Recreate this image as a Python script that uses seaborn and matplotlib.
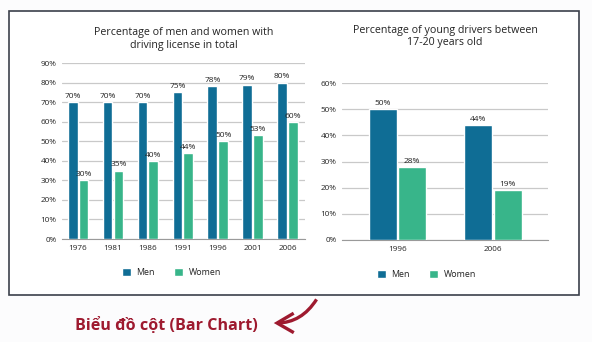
import numpy as np, pandas as pd
import seaborn as sns, matplotlib.pyplot as plt
from matplotlib.patches import Rectangle, FancyArrowPatch, Patch

# left chart: licence holders
years = ["1976", "1981", "1986", "1991", "1996", "2001", "2006"]
men_total = [70, 70, 70, 75, 78, 79, 80]
women_total = [30, 35, 40, 44, 50, 53, 60]

# right chart: young drivers 17-20
young_years = ["1996", "2006"]
men_young = [50, 44]
women_young = [28, 19]

groups = ["Men", "Women"]
colors = {"Men": "#0f6d95", "Women": "#38b58a"}

def longform(cats, m, w):
    return pd.DataFrame({"year": cats * 2, "sex": ["Men"] * len(cats) + ["Women"] * len(cats),
                         "pct": m + w})

sns.set_style("white")
plt.rcParams['font.family'] = ['Open Sans', 'DejaVu Sans']
txt = "#232323"

fig = plt.figure(figsize=(5.92, 3.42), dpi=100)
fig.patch.set_facecolor("#fcfcfd")
W, H = 592, 342
def box(x0, y0, x1, y1):
    return [x0 / W, 1 - y1 / H, (x1 - x0) / W, (y1 - y0) / H]

# outer frame
fig.add_artist(Rectangle((9 / W, 1 - 295 / H), 570 / W, 284 / H, transform=fig.transFigure,
                         facecolor="white", edgecolor="#3b404b", lw=1.2, zorder=0))

def panel(ax, df, ymax, step, xlim, width, gap, title, pad, leg_xy):
    sns.barplot(data=df, x="year", y="pct", hue="sex", palette=colors, width=width, gap=gap,
                ax=ax, legend=False, saturation=1, zorder=3)
    for c in ax.containers:
        ax.bar_label(c, fmt="%g%%", padding=1.5, fontsize=6.0, color=txt)
    ax.set_ylim(0, ymax)
    ax.set_xlim(*xlim)
    ax.set_yticks(np.arange(0, ymax + 1, step))
    ax.set_yticklabels([f"{v}%" for v in range(0, ymax + 1, step)])
    ax.yaxis.grid(True, color="#c9c9c9", lw=0.9, zorder=0)
    ax.set_axisbelow(True)
    for s in ["top", "right", "left"]:
        ax.spines[s].set_visible(False)
    ax.spines["bottom"].set_color("#9a9a9a")
    ax.tick_params(axis="both", labelsize=5.9, colors=txt, length=0, pad=4)
    ax.set_xlabel("")
    ax.set_ylabel("")
    ax.set_facecolor("none")
    ax.set_title(title, fontsize=7.7, color=txt, pad=pad, linespacing=1.2)
    handles = [Patch(facecolor=colors[g], label=g) for g in groups]
    ax.legend(handles=handles, loc="center", bbox_to_anchor=leg_xy, ncol=2, frameon=False,
              fontsize=6.4, handlelength=1.0, handleheight=1.0, columnspacing=2.2,
              handletextpad=0.6, labelcolor=txt)

ax1 = fig.add_axes(box(62, 63, 305, 239))
panel(ax1, longform(years, men_total, women_total), 90, 10, (-0.46, 6.5), 0.62, 0.1,
      "Percentage of men and women with\ndriving license in total", 11, (0.45, -0.19))

ax2 = fig.add_axes(box(342, 83, 548, 240))
panel(ax2, longform(young_years, men_young, women_young), 60, 10, (-0.58, 1.576), 0.62, 0.05,
      "Percentage of young drivers between\n17-20 years old", 27, (0.41, -0.22))

red = "#9e1a2f"
fig.text(75 / W, 1 - 330 / H, "Biểu đồ cột (Bar Chart)", fontsize=11.6, fontweight="bold",
         color=red, va="baseline", ha="left")
fig.add_artist(FancyArrowPatch((318 / W, 1 - 297 / H), (271 / W, 1 - 323 / H),
                               transform=fig.transFigure, connectionstyle="arc3,rad=-0.3",
                               arrowstyle="->,head_length=12,head_width=7", color=red, lw=2.4,
                               joinstyle="miter", capstyle="butt"))

fig.savefig("out.png", dpi=100)
